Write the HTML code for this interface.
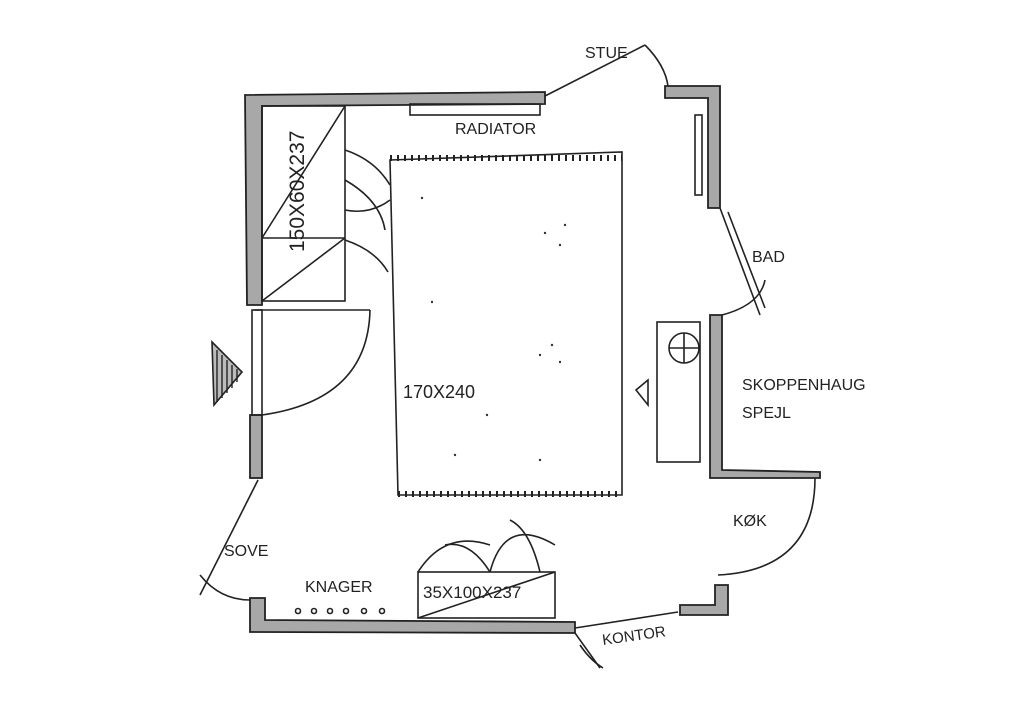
<!DOCTYPE html>
<html><head><meta charset="utf-8"><style>
html,body{margin:0;padding:0;background:#fff;}
svg{display:block;}
text{font-family:"Liberation Sans",sans-serif;fill:#222;}
</style></head><body>
<svg width="1024" height="714" viewBox="0 0 1024 714" xmlns="http://www.w3.org/2000/svg">
<g stroke="#222" stroke-width="1.8" fill="#a8a8a8">
  <path d="M245 95 L545 92 L545 104 L262 106 L262 305 L247 305 Z"/>
  <rect x="250" y="415" width="12" height="63"/>
  <path d="M250 598 L265 598 L265 620 L575 622 L575 633 L250 632 Z"/>
  <path d="M665 86 L720 86 L720 208 L708 208 L708 98 L665 98 Z"/>
  <path d="M710 315 L722 315 L722 470 L820 472 L820 478 L710 478 Z"/>
  <path d="M715 585 L728 585 L728 615 L680 615 L680 605 L715 605 Z"/>
</g>
<g stroke="#222" stroke-width="1.6" fill="none">
  <rect x="410" y="104" width="130" height="11"/>
  <rect x="695" y="115" width="7" height="80"/>
  <rect x="262" y="106" width="83" height="195"/>
  <line x1="262" y1="238" x2="345" y2="238"/>
  <line x1="262" y1="238" x2="345" y2="106"/>
  <line x1="262" y1="301" x2="345" y2="238"/>
  <path d="M345 150 Q375 160 390 185"/>
  <path d="M345 180 Q380 200 385 230"/>
  <path d="M345 240 Q375 250 388 272"/>
  <path d="M345 210 Q370 215 390 200"/>
  <rect x="252" y="310" width="10" height="105"/>
  <line x1="255" y1="310" x2="370" y2="310"/>
  <path d="M370 310 Q368 400 262 415"/>
  <path d="M212 342 L242 372 L214 405 Z" fill="#bbb"/>
  <path d="M217 350 V402 M222 355 V398 M227 360 V393 M232 365 V388 M237 369 V382" stroke-width="1.4"/>
  <path d="M390 160 L622 152 L622 495 L398 495 Z"/>
  <path d="M390 158 H622" stroke-dasharray="2 5" stroke-width="6"/>
  <path d="M398 494 H622" stroke-dasharray="2 5" stroke-width="6"/>
  <rect x="657" y="322" width="43" height="140"/>
  <circle cx="684" cy="348" r="15"/>
  <line x1="669" y1="348" x2="699" y2="348"/>
  <line x1="684" y1="333" x2="684" y2="363"/>
  <path d="M648 380 L636 390 L648 405 Z"/>
  <line x1="720" y1="208" x2="760" y2="315"/>
  <path d="M728 212 L765 308"/>
  <path d="M765 280 Q760 305 722 315"/>
  <line x1="545" y1="96" x2="645" y2="45"/>
  <path d="M645 45 Q665 65 668 86"/>
  <path d="M815 478 Q815 570 718 575"/>
  <line x1="258" y1="480" x2="200" y2="595"/>
  <path d="M200 575 Q220 600 250 600"/>
  <line x1="575" y1="628" x2="678" y2="612"/>
  <line x1="575" y1="633" x2="600" y2="668"/>
  <path d="M580 645 Q590 660 603 668"/>
  <rect x="418" y="572" width="137" height="46"/>
  <line x1="418" y1="618" x2="555" y2="572"/>
  <path d="M418 572 Q445 530 490 545"/>
  <path d="M490 572 Q470 540 445 545"/>
  <path d="M490 572 Q505 515 555 545"/>
  <path d="M540 572 Q530 530 510 520"/>
  <circle cx="298" cy="611" r="2.5"/><circle cx="314" cy="611" r="2.5"/>
  <circle cx="330" cy="611" r="2.5"/><circle cx="346" cy="611" r="2.5"/>
  <circle cx="364" cy="611" r="2.5"/><circle cx="382" cy="611" r="2.5"/>
</g>
<g fill="#333">
  <circle cx="422" cy="198" r="1.2"/><circle cx="545" cy="233" r="1.2"/><circle cx="560" cy="245" r="1.2"/>
  <circle cx="565" cy="225" r="1.2"/><circle cx="552" cy="345" r="1.2"/><circle cx="540" cy="355" r="1.2"/>
  <circle cx="560" cy="362" r="1.2"/><circle cx="487" cy="415" r="1.2"/><circle cx="455" cy="455" r="1.2"/>
  <circle cx="540" cy="460" r="1.2"/><circle cx="432" cy="302" r="1.2"/>
</g>
<text x="585" y="58" style="font-size:16px">STUE</text>
<text x="455" y="134" style="font-size:16px">RADIATOR</text>
<text x="752" y="262" style="font-size:16px">BAD</text>
<text x="742" y="390" style="font-size:16px">SKOPPENHAUG</text>
<text x="742" y="418" style="font-size:16px">SPEJL</text>
<text x="733" y="526" style="font-size:16px">KØK</text>
<text x="224" y="556" style="font-size:16px">SOVE</text>
<text x="305" y="592" style="font-size:16px">KNAGER</text>
<text x="603" y="645" style="font-size:15px" transform="rotate(-8 603 645)">KONTOR</text>
<text x="403" y="398" style="font-size:18px">170X240</text>
<text x="423" y="598" style="font-size:17px">35X100X237</text>
<text x="0" y="0" style="font-size:21px" transform="translate(304 252) rotate(-90)">150X60X237</text>
</svg>
</body></html>
